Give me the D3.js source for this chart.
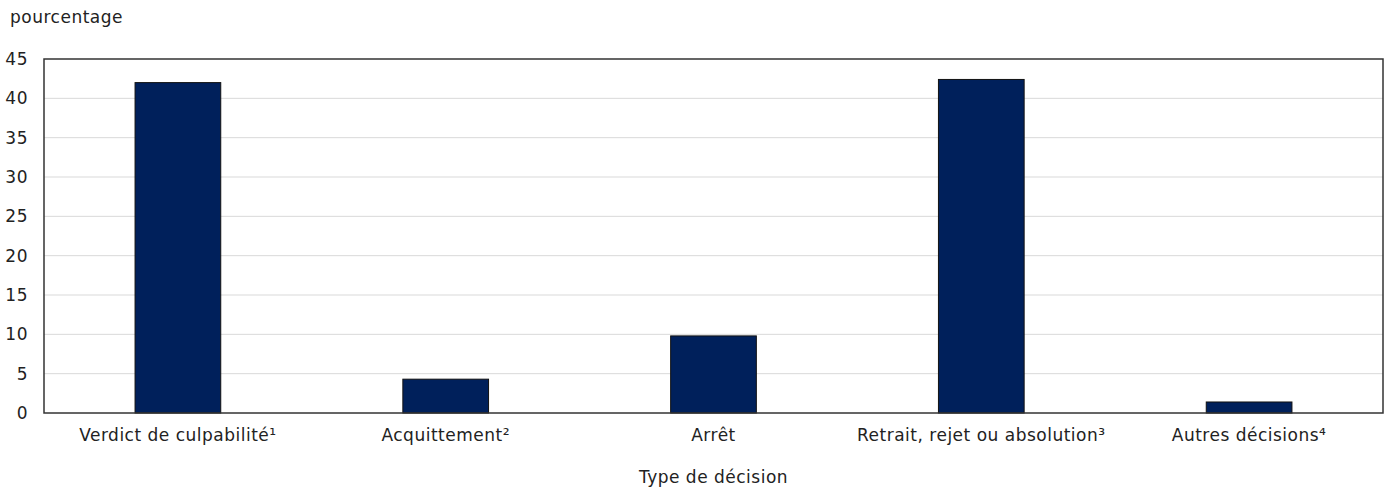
<!DOCTYPE html>
<html>
<head>
<meta charset="utf-8">
<script src="https://cdn.jsdelivr.net/npm/d3@7"></script>
<style>
  body { margin: 0; background: #fff; }
  svg { display: block; font-family: "DejaVu Sans", Verdana, sans-serif; }
  text { letter-spacing: 0.5px; }
</style>
</head>
<body>
<svg id="chart" width="1387" height="489"></svg>
<script>
const categories = ["Verdict de culpabilité¹", "Acquittement²", "Arrêt", "Retrait, rejet ou absolution³", "Autres décisions⁴"];
const values = [42.0, 4.3, 9.8, 42.4, 1.4];
const yTicks = [0, 5, 10, 15, 20, 25, 30, 35, 40, 45];
const yTitle = "pourcentage";
const xTitle = "Type de décision";

const FS = 17;
const svg = d3.select("#chart");
const margin = {left: 44, right: 4, top: 59, bottom: 76};
const W = 1387, H = 489;
const x = d3.scaleBand().domain(categories).range([margin.left, W - margin.right]).paddingInner(0.68).paddingOuter(0.34);
const y = d3.scaleLinear().domain([0, 45]).range([H - margin.bottom, margin.top]);

// gridlines
svg.append("g").selectAll("line").data(yTicks.filter(t => t > 0 && t < 45)).join("line")
  .attr("x1", margin.left).attr("x2", W - margin.right)
  .attr("y1", d => y(d)).attr("y2", d => y(d))
  .attr("stroke", "#d9d9d9").attr("stroke-width", 1);

// bars
svg.append("g").selectAll("rect").data(values).join("rect")
  .attr("x", (d, i) => x(categories[i]))
  .attr("width", x.bandwidth())
  .attr("y", d => y(d))
  .attr("height", d => y(0) - y(d))
  .attr("fill", "#00205b")
  .attr("stroke", "#111")
  .attr("stroke-width", 1);

// frame
svg.append("rect")
  .attr("x", margin.left).attr("y", margin.top)
  .attr("width", W - margin.right - margin.left)
  .attr("height", y(0) - margin.top)
  .attr("fill", "none").attr("stroke", "#333").attr("stroke-width", 1.5);

// y axis
const yAxis = d3.axisLeft(y).tickValues(yTicks).tickSize(0).tickPadding(16);
const gy = svg.append("g").attr("transform", `translate(${margin.left},0)`).call(yAxis);
gy.select(".domain").remove();
gy.selectAll("text").attr("font-size", FS).attr("fill", "#222").attr("font-family", "DejaVu Sans, Verdana, sans-serif");

// x axis
const xAxis = d3.axisBottom(x).tickSize(0).tickPadding(16);
const gx = svg.append("g").attr("transform", `translate(0,${y(0)})`).call(xAxis);
gx.select(".domain").remove();
gx.selectAll("text").attr("font-size", FS).attr("fill", "#222").attr("font-family", "DejaVu Sans, Verdana, sans-serif");

svg.append("text").attr("x", 10).attr("y", 23).attr("font-size", FS).attr("fill", "#222").text(yTitle);
svg.append("text").attr("x", (margin.left + W - margin.right) / 2).attr("y", 483)
  .attr("text-anchor", "middle").attr("font-size", FS).attr("fill", "#222").text(xTitle);
</script>
</body>
</html>
